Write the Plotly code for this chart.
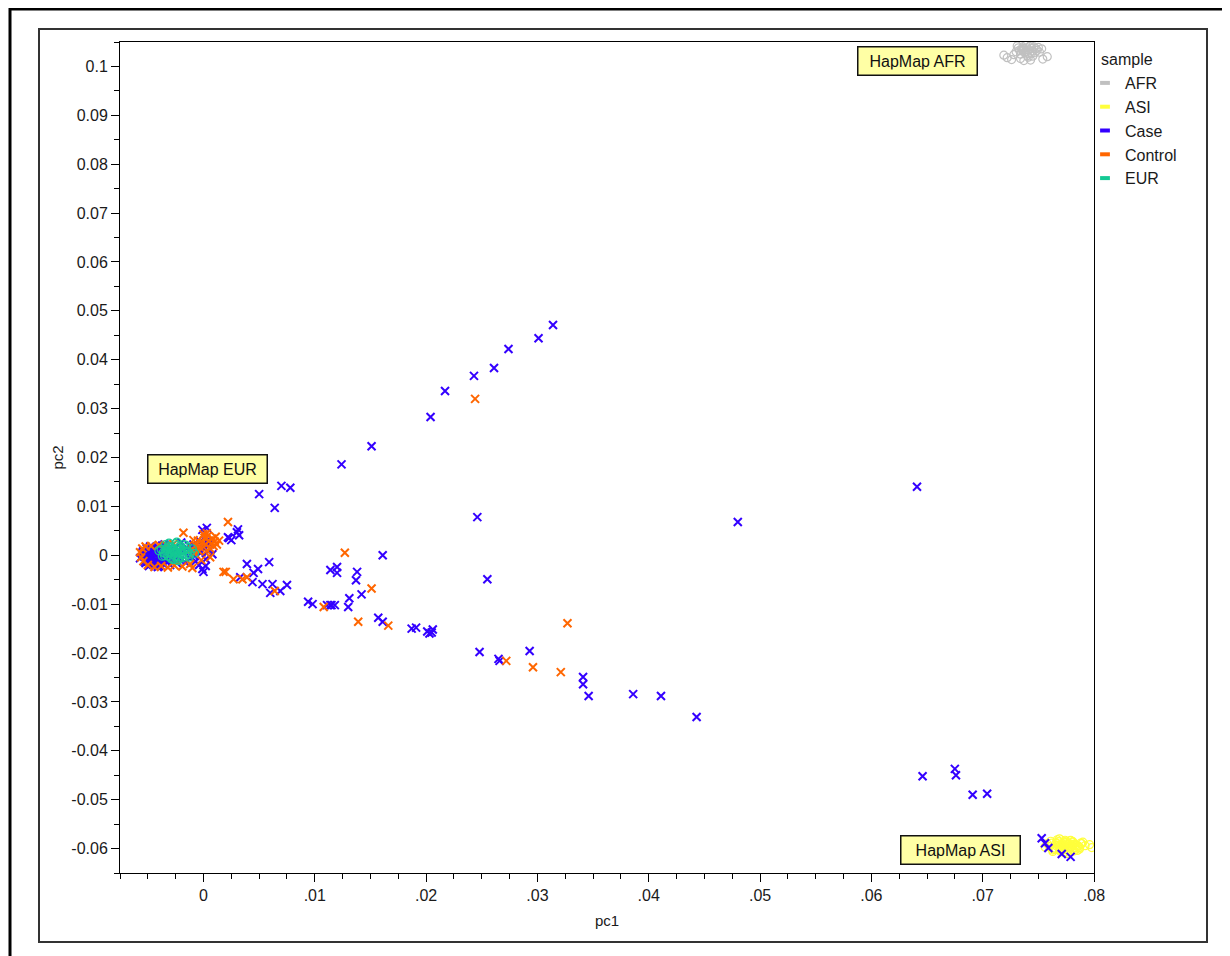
import plotly.graph_objects as go

# ---------------- data ----------------
afr_x = [0.0735,0.0740,0.0745,0.0738,0.0742,0.0733,0.0748,0.0736,0.0744,0.0739,
         0.0730,0.0751,0.0741,0.0737,0.0746,0.0734,0.0743,0.0749,0.0732,0.0740,
         0.0728,0.0753,0.0738,0.0745,0.0742,0.0736,0.0747,0.0731,0.0744,0.0739,
         0.0722,0.0758,0.0726,0.0754,0.0734,0.0741,0.0719,0.0750,0.0737,0.0743]
afr_y = [0.1035,0.1038,0.1032,0.1028,0.1041,0.1033,0.1036,0.1040,0.1027,0.1031,
         0.1030,0.1029,0.1034,0.1037,0.1040,0.1025,0.1043,0.1033,0.1038,0.1022,
         0.1024,0.1036,0.1030,0.1021,0.1026,0.1034,0.1028,0.1042,0.1037,0.1044,
         0.1018,0.1020,0.1014,0.1015,0.1016,0.1019,0.1023,0.1039,0.1012,0.1013]

asi_x = [0.0770,0.0775,0.0780,0.0772,0.0778,0.0766,0.0783,0.0768,0.0776,0.0773,
         0.0762,0.0786,0.0771,0.0779,0.0774,0.0765,0.0781,0.0769,0.0777,0.0784,
         0.0760,0.0789,0.0767,0.0782,0.0775,0.0763,0.0787,0.0771,0.0779,0.0773,
         0.0758,0.0792,0.0764,0.0790,0.0776,0.0769,0.0781,0.0766,0.0785,0.0774,
         0.0756,0.0796,0.0761,0.0798,0.0772,0.0778,0.0768,0.0788,0.0763,0.0780,
         0.0767,0.0771,0.0775,0.0779,0.0783,0.0787,0.0765,0.0769,0.0773,0.0777,
         0.0781,0.0785,0.0770,0.0774,0.0778,0.0782]
asi_y = [-0.0592,-0.0588,-0.0596,-0.0600,-0.0590,-0.0594,-0.0598,-0.0586,-0.0602,-0.0593,
         -0.0589,-0.0595,-0.0604,-0.0584,-0.0597,-0.0599,-0.0587,-0.0603,-0.0591,-0.0601,
         -0.0596,-0.0590,-0.0582,-0.0605,-0.0585,-0.0606,-0.0598,-0.0595,-0.0583,-0.0608,
         -0.0590,-0.0594,-0.0601,-0.0587,-0.0610,-0.0580,-0.0592,-0.0588,-0.0604,-0.0599,
         -0.0597,-0.0592,-0.0585,-0.0598,-0.0594,-0.0606,-0.0593,-0.0589,-0.0603,-0.0596,
         -0.0590,-0.0597,-0.0591,-0.0599,-0.0593,-0.0601,-0.0602,-0.0595,-0.0587,-0.0604,
         -0.0586,-0.0594,-0.0606,-0.0583,-0.0597,-0.0591]

case_x = [-0.0050,-0.0045,-0.0040,-0.0048,-0.0042,-0.0036,-0.0053,-0.0038,-0.0046,-0.0033,
          -0.0055,-0.0043,-0.0039,-0.0049,-0.0035,-0.0051,-0.0044,-0.0031,-0.0047,-0.0041,
          -0.0057,-0.0037,-0.0045,-0.0052,-0.0034,-0.0040,-0.0048,-0.0029,-0.0054,-0.0043,
          -0.0036,-0.0050,-0.0027,-0.0046,-0.0039,-0.0032,-0.0044,-0.0025,-0.0049,-0.0037,
          -0.0021,-0.0018,-0.0015,-0.0012,-0.0009,-0.0006,-0.0003,0.0000,0.0003,0.0006,
          -0.0016,-0.0011,-0.0007,-0.0002,0.0002,0.0005,-0.0013,-0.0004,0.0001,0.0008,
          -0.0041,-0.0047,-0.0035,-0.0030,-0.0053,-0.0026,-0.0020,-0.0008,-0.0001,0.0004,
          -0.0052,-0.0048,-0.0044,-0.0040,-0.0036,-0.0032,-0.0028,-0.0024,-0.0050,-0.0046,
          -0.0042,-0.0038,-0.0034,-0.0030,-0.0054,-0.0049,-0.0045,-0.0041,-0.0037,-0.0033,
          0.0031,0.0030,0.0032,0.0023,0.0025,0.0022,-0.0001,0.0003,0.0000,0.0002,
          0.0039,0.0059,0.0049,0.0045,0.0033,0.0044,0.0053,0.0062,0.0075,0.0069,0.0060,
          0.0094,0.0098,0.0111,0.0114,0.0115,0.0118,0.0114,0.0120,0.0120,0.0138,0.0137,
          0.0142,0.0131,0.0130,0.0157,0.0161,0.0187,0.0191,0.0201,0.0203,0.0206,0.0205,
          0.0314,0.0301,0.0274,0.0261,0.0243,0.0217,0.0204,0.0151,0.0124,0.0070,0.0078,
          0.0050,0.0064,0.0246,0.0480,0.0641,0.0161,0.0255,0.0293,0.0248,0.0265,0.0266,
          0.0341,0.0341,0.0346,0.0386,0.0411,0.0443,0.0646,0.0675,0.0676,0.0691,0.0704,
          0.0753,0.0759,0.0779,0.0771,0.0756]
case_y = [0.0002,-0.0005,0.0004,0.0008,-0.0010,0.0000,-0.0003,-0.0008,0.0012,0.0006,
          0.0005,0.0010,-0.0015,-0.0012,-0.0004,0.0014,0.0002,0.0009,-0.0018,0.0016,
          -0.0006,0.0013,-0.0020,-0.0016,-0.0012,-0.0022,0.0018,-0.0008,0.0009,0.0006,
          -0.0018,-0.0001,0.0003,0.0004,-0.0007,-0.0014,-0.0011,-0.0005,-0.0022,0.0020,
          -0.0010,0.0008,0.0015,-0.0006,0.0022,0.0010,0.0028,0.0018,0.0030,0.0012,
          -0.0015,0.0004,-0.0012,0.0006,-0.0008,0.0024,0.0020,-0.0020,0.0014,0.0002,
          -0.0024,0.0016,0.0022,-0.0020,-0.0013,0.0014,0.0026,-0.0002,-0.0028,0.0008,
          0.0001,-0.0007,0.0011,-0.0003,0.0007,-0.0011,0.0004,-0.0016,-0.0013,0.0015,
          -0.0019,0.0002,-0.0009,0.0012,0.0006,-0.0002,0.0007,-0.0017,0.0010,-0.0006,
          0.0053,0.0047,0.0041,0.0035,0.0031,0.0037,0.0052,0.0056,-0.0034,-0.0022,
          -0.0018,-0.0014,-0.0028,-0.0036,-0.0045,-0.0055,-0.0059,-0.0059,-0.0061,-0.0073,-0.0077,
          -0.0095,-0.0100,-0.0102,-0.0102,-0.0102,-0.0102,-0.0030,-0.0024,-0.0036,-0.0034,-0.0051,
          -0.0080,-0.0088,-0.0106,-0.0128,-0.0136,-0.0150,-0.0148,-0.0156,-0.0160,-0.0152,-0.0158,
          0.0471,0.0444,0.0422,0.0383,0.0367,0.0336,0.0283,0.0223,0.0186,0.0142,0.0138,
          0.0125,0.0097,0.0078,0.0068,0.0140,0.0000,-0.0049,-0.0196,-0.0198,-0.0212,-0.0216,
          -0.0249,-0.0264,-0.0288,-0.0284,-0.0288,-0.0331,-0.0452,-0.0437,-0.0450,-0.0490,-0.0488,
          -0.0579,-0.0599,-0.0617,-0.0611,-0.0589]

control_x = [-0.0057,-0.0056,-0.0055,-0.0054,-0.0052,
             -0.0050,-0.0044,-0.0038,-0.0032,-0.0026,-0.0019,-0.0012,
             -0.0047,-0.0040,-0.0033,-0.0027,
             -0.0010,-0.0007,-0.0005,-0.0003,-0.0001,0.0001,0.0002,0.0004,0.0005,0.0006,
             0.0007,0.0008,0.0009,0.0010,0.0011,0.0012,0.0014,-0.0004,0.0003,0.0000,
             -0.0008,0.0006,-0.0002,
             -0.0018,0.0022,-0.0010,0.0003,-0.0009,0.0018,0.0020,0.0027,0.0035,0.0039,
             0.0064,0.0108,0.0139,0.0166,0.0127,0.0151,0.0244,0.0327,0.0272,0.0296,0.0321]
control_y = [0.0006,-0.0004,0.0014,-0.0012,0.0018,
             -0.0020,-0.0024,-0.0022,-0.0025,-0.0021,-0.0023,-0.0018,
             0.0019,0.0021,0.0020,0.0023,
             0.0012,0.0020,0.0030,0.0016,0.0026,0.0036,0.0022,0.0040,0.0030,0.0014,
             0.0024,0.0034,0.0019,0.0028,0.0038,0.0022,0.0030,0.0008,0.0010,0.0043,
             0.0004,-0.0004,-0.0010,
             0.0046,0.0068,-0.0026,0.0045,0.0031,-0.0034,-0.0034,-0.0049,-0.0049,-0.0045,
             -0.0073,-0.0106,-0.0136,-0.0144,0.0005,-0.0068,0.0320,-0.0139,-0.0216,-0.0229,-0.0239]

eur_x = [-0.0025,-0.0030,-0.0020,-0.0028,-0.0022,-0.0034,-0.0017,-0.0026,-0.0031,-0.0019,
         -0.0036,-0.0014,-0.0024,-0.0029,-0.0021,-0.0033,-0.0016,-0.0027,-0.0023,-0.0032,
         -0.0038,-0.0012,-0.0025,-0.0030,-0.0018,-0.0035,-0.0015,-0.0026,-0.0022,-0.0029,
         -0.0040,-0.0010,-0.0024,-0.0033,-0.0019,-0.0027,-0.0021,-0.0031,-0.0016,-0.0028,
         -0.0037,-0.0013,-0.0023,-0.0008,-0.0034,-0.0020,-0.0026,-0.0032,-0.0018,-0.0024,
         -0.0029,-0.0015,-0.0035,-0.0021,-0.0027]
eur_y = [0.0008,0.0012,0.0005,0.0002,0.0015,0.0009,0.0011,-0.0002,0.0017,0.0001,
         0.0006,0.0007,0.0020,-0.0004,0.0010,0.0003,-0.0003,0.0014,-0.0006,0.0019,
         0.0012,0.0002,0.0024,0.0007,0.0022,-0.0001,0.0016,0.0004,-0.0008,-0.0007,
         0.0009,0.0013,0.0027,0.0014,-0.0005,-0.0009,0.0018,0.0025,0.0021,0.0011,
         -0.0002,-0.0004,-0.0011,0.0004,0.0022,0.0013,0.0006,-0.0002,0.0009,-0.0003,
         0.0016,0.0001,0.0004,0.0019,0.0010]

x_tick_vals = [0, 0.01, 0.02, 0.03, 0.04, 0.05, 0.06, 0.07, 0.08]
x_tick_text = ["0", ".01", ".02", ".03", ".04", ".05", ".06", ".07", ".08"]
y_tick_vals = [-0.06, -0.05, -0.04, -0.03, -0.02, -0.01, 0, 0.01, 0.02, 0.03,
               0.04, 0.05, 0.06, 0.07, 0.08, 0.09, 0.1]
y_tick_text = ["-0.06", "-0.05", "-0.04", "-0.03", "-0.02", "-0.01", "0", "0.01", "0.02", "0.03",
               "0.04", "0.05", "0.06", "0.07", "0.08", "0.09", "0.1"]

labels = ["HapMap AFR", "HapMap EUR", "HapMap ASI"]
label_x = [0.0641, 0.00032, 0.0680]
label_y = [0.1011, 0.01764, -0.0602]

groups = ["AFR", "ASI", "Case", "Control", "EUR"]
colors = {"AFR": "#c0c0c0", "ASI": "#ffff3c", "Case": "#3300ff",
          "Control": "#ff6600", "EUR": "#14c994"}
legend_title = "sample"

# ---------------- figure ----------------
FONT = "Liberation Sans, Arial, sans-serif"
fig = go.Figure()

series = {"AFR": (afr_x, afr_y, "circle-open"),
          "ASI": (asi_x, asi_y, "circle-open"),
          "Case": (case_x, case_y, "x-thin-open"),
          "Control": (control_x, control_y, "x-thin-open"),
          "EUR": (eur_x, eur_y, "circle-open")}

for g in groups:
    xs, ys, sym = series[g]
    c = colors[g]
    if sym == "circle-open":
        mk = dict(symbol=sym, size=8, color=c, line=dict(color=c, width=1.2))
    else:
        mk = dict(symbol=sym, size=8, color=c, line=dict(color=c, width=2))
    fig.add_trace(go.Scatter(x=xs, y=ys, mode="markers", marker=mk,
                             showlegend=False, hoverinfo="skip"))

for g in groups:
    c = colors[g]
    fig.add_trace(go.Scatter(x=[None], y=[None], mode="markers", name=g,
                             legendgroup=g,
                             marker=dict(symbol="line-ew-open", size=7, color=c,
                                         line=dict(color=c, width=4))))

for t, ax, ay in zip(labels, label_x, label_y):
    fig.add_annotation(x=ax, y=ay, xref="x", yref="y", text=t, showarrow=False,
                       font=dict(family=FONT, size=16, color="#111"),
                       bgcolor="#ffffa5", bordercolor="#111", borderwidth=1.5,
                       borderpad=5, width=108, height=17)

OFF = 8  # page body margin
W, H = 1230, 956
L, R, T, B = 120 - OFF, 136 + OFF, 42 - OFF, 83 + OFF
pw, ph = W - L - R, H - T - B

def px2x(p):
    return (p - OFF - L) / pw

def py2y(p):
    return (H - B - (p - OFF)) / ph

# legend title as text
fig.add_annotation(xref="paper", yref="paper", x=px2x(1099), y=py2y(60),
                   xanchor="left", yanchor="middle", text=legend_title,
                   showarrow=False, font=dict(family=FONT, size=16, color="#1a1a1a"))

# outer and inner frames
fig.add_shape(type="rect", xref="paper", yref="paper",
              x0=px2x(10), x1=px2x(1250), y0=py2y(975), y1=py2y(9),
              line=dict(color="black", width=3), layer="above")
fig.add_shape(type="rect", xref="paper", yref="paper",
              x0=px2x(39), x1=px2x(1207), y0=py2y(942), y1=py2y(29),
              line=dict(color="#333", width=2), layer="above")

axis_common = dict(showgrid=False, zeroline=False, showline=True, mirror=True,
                   linecolor="black", linewidth=1, ticks="outside", ticklen=8,
                   tickwidth=1, tickcolor="black",
                   tickfont=dict(family=FONT, size=16, color="#1a1a1a"))

fig.update_xaxes(range=[-0.0075, 0.08], tickmode="array", tickvals=x_tick_vals,
                 ticktext=x_tick_text,
                 minor=dict(dtick=0.0025, tick0=0, ticks="outside", ticklen=5,
                            tickcolor="black", tickwidth=1),
                 title=dict(text="pc1", font=dict(family=FONT, size=15, color="#1a1a1a"),
                            standoff=12),
                 **axis_common)
fig.update_yaxes(range=[-0.065, 0.105], tickmode="array", tickvals=y_tick_vals,
                 ticktext=y_tick_text,
                 minor=dict(dtick=0.005, tick0=0, ticks="outside", ticklen=5,
                            tickcolor="black", tickwidth=1),
                 title=dict(text="pc2", font=dict(family=FONT, size=15, color="#1a1a1a"),
                            standoff=4),
                 **axis_common)

fig.update_layout(
    width=W, height=H,
    margin=dict(l=L, r=R, t=T, b=B, autoexpand=False),
    paper_bgcolor="white", plot_bgcolor="white",
    font=dict(family=FONT, size=16, color="#1a1a1a"),
    legend=dict(x=px2x(1085), xanchor="left", y=py2y(66), yanchor="top",
                bgcolor="rgba(0,0,0,0)", borderwidth=0,
                font=dict(family=FONT, size=16), tracegroupgap=2,
                traceorder="normal"),
)

fig.write_html("out.html")
